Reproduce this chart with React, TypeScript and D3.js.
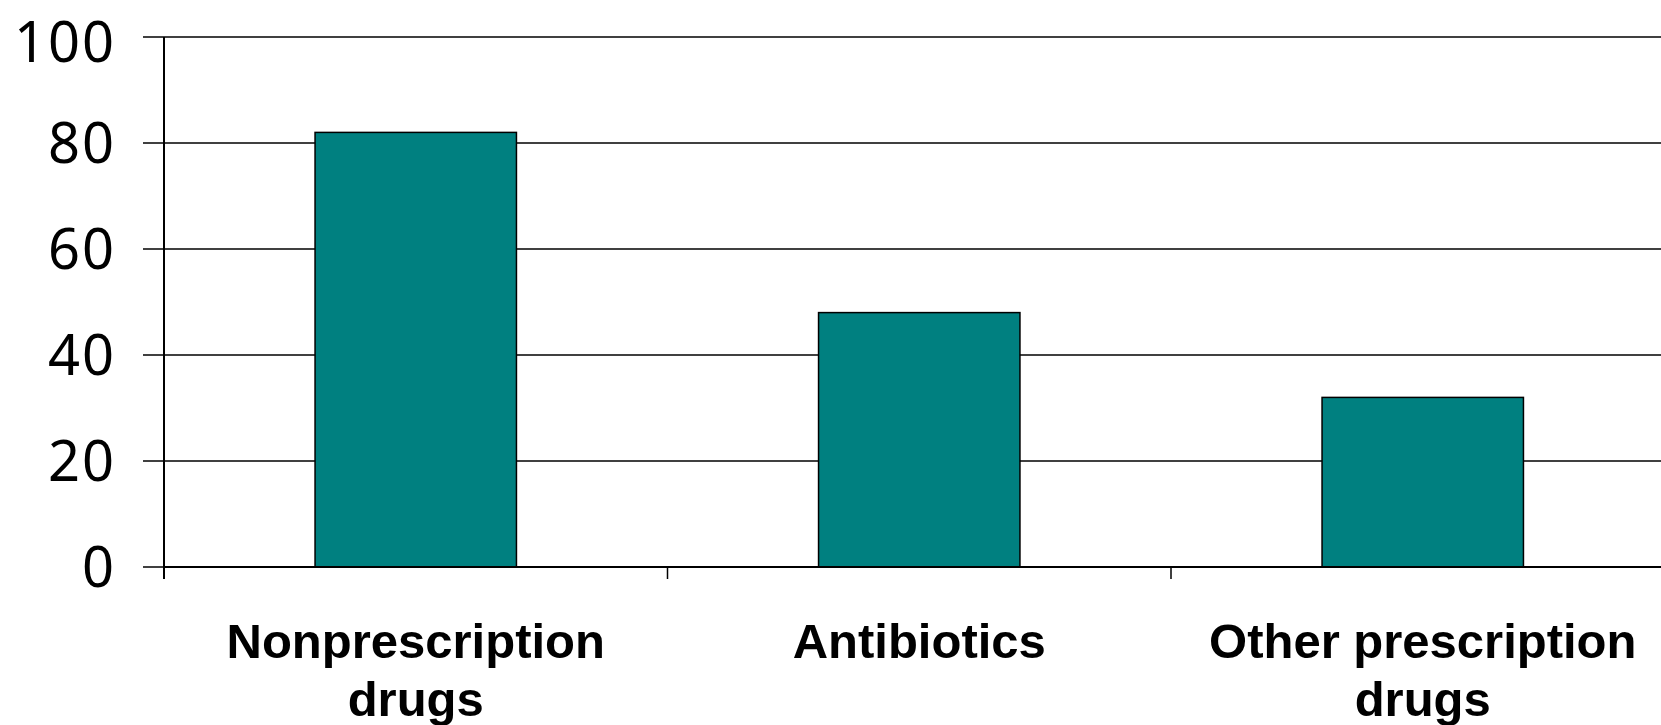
import React from 'react';
import * as d3 from 'd3';

const categories = ['Nonprescription drugs', 'Antibiotics', 'Other prescription drugs'];
const labelLines = [['Nonprescription', 'drugs'], ['Antibiotics'], ['Other prescription', 'drugs']];
const values = [82, 48, 32];
const yTicks = [0, 20, 40, 60, 80, 100];

const App = () => {
  const width = 1661;
  const height = 725;
  const left = 164;
  const top = 37;
  const bottom = 567;
  const right = 1674.5;

  const x = d3.scaleBand<string>()
    .domain(categories)
    .range([left, right])
    .paddingInner(0.6)
    .paddingOuter(0.3);

  const y = d3.scaleLinear().domain([0, 100]).range([bottom, top]);

  const step = x.step();
  // category boundaries for tick marks
  const boundaries = categories.map((_, i) => left + i * step);

  return (
    <svg width={width} height={height} style={{ position: 'absolute', left: 0, top: 0, background: '#fff' }}>
      {/* gridlines */}
      {yTicks.filter(t => t > 0).map(t => (
        <line key={'g' + t} x1={left} x2={right} y1={y(t)} y2={y(t)} stroke="#000" strokeWidth={1.5} />
      ))}

      {/* bars */}
      {values.map((v, i) => (
        <rect
          key={categories[i]}
          x={x(categories[i])}
          y={y(v)}
          width={x.bandwidth()}
          height={y(0) - y(v)}
          fill="#008080"
          stroke="#000"
          strokeWidth={1.5}
        />
      ))}

      {/* y axis */}
      <line x1={left} x2={left} y1={top} y2={bottom + 12} stroke="#000" strokeWidth={2} />
      {yTicks.map(t => (
        <g key={'t' + t}>
          <line x1={left - 21} x2={left} y1={y(t)} y2={y(t)} stroke="#000" strokeWidth={1.5} />
          <text
            x={116}
            y={Math.max(y(t), top + 5)}
            dy="0.35em"
            textAnchor="end"
            fontFamily="'Noto Sans', sans-serif"
            fontSize={56}
            letterSpacing={2}
            fill="#000"
          >
            {t}
          </text>
        </g>
      ))}

      {/* x axis */}
      <line x1={left} x2={right} y1={bottom} y2={bottom} stroke="#000" strokeWidth={2} />
      {boundaries.map((b, i) => (
        <line key={'b' + i} x1={b} x2={b} y1={bottom} y2={bottom + 12} stroke="#000" strokeWidth={1.5} />
      ))}

      {/* category labels */}
      {categories.map((c, i) => (
        <text
          key={'l' + c}
          x={(x(c) ?? 0) + x.bandwidth() / 2}
          y={658}
          textAnchor="middle"
          fontFamily="'Liberation Sans', Arial, sans-serif"
          fontWeight="bold"
          fontSize={49}
          fill="#000"
        >
          {labelLines[i].map((line, j) => (
            <tspan key={j} x={(x(c) ?? 0) + x.bandwidth() / 2} dy={j === 0 ? 0 : 58}>{line}</tspan>
          ))}
        </text>
      ))}
    </svg>
  );
};

export default App;
